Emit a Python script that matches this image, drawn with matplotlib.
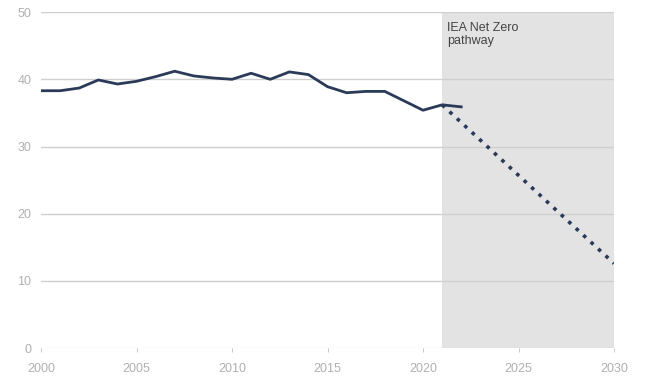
import matplotlib.pyplot as plt
import numpy as np

plt.rcParams['font.family'] = ['Liberation Sans', 'DejaVu Sans']

# historical series
years = [2000, 2001, 2002, 2003, 2004, 2005, 2006, 2007, 2008, 2009, 2010,
         2011, 2012, 2013, 2014, 2015, 2016, 2017, 2018, 2019, 2020, 2021, 2022]
values = [38.3, 38.3, 38.7, 39.9, 39.3, 39.7, 40.4, 41.2, 40.5, 40.2, 40.0,
          40.9, 40.0, 41.1, 40.7, 38.9, 38.0, 38.2, 38.2, 36.8, 35.4, 36.2, 35.9]

# net zero pathway
nz_years = [2021, 2030]
nz_values = [36.2, 12.6]

shade_start, shade_end = 2021, 2030
xticks = [2000, 2005, 2010, 2015, 2020, 2025, 2030]
yticks = [0, 10, 20, 30, 40, 50]

fig = plt.figure(figsize=(6.46, 3.78), dpi=100)
ax = fig.add_axes([0.0635, 0.079, 0.887, 0.889])

ax.axvspan(shade_start, shade_end, color='#e3e3e3', zorder=0, lw=0)
for y in yticks[1:]:
    ax.axhline(y, color='#cfcfcf', lw=1.0, zorder=1)
ax.axhline(0, color='#bdbdbd', lw=0.8, zorder=1)

ax.plot(years, values, color='#2b3a58', lw=2.0, zorder=3)
ax.plot(nz_years, nz_values, color='#2b3a58', lw=2.6, ls=(0, (1, 1.8)), zorder=3)

ax.text(2021.25, 48.6, "IEA Net Zero\npathway", fontsize=9, color='#444444',
        va='top', ha='left', linespacing=1.15)

ax.set_xlim(2000, 2030)
ax.set_ylim(0, 50)
ax.set_xticks(xticks)
ax.set_yticks(yticks)
ax.tick_params(axis='x', length=3, width=0.6, color='#bdbdbd', labelcolor='#b0b0b0',
               labelsize=9, pad=8, direction='out')
ax.tick_params(axis='y', length=0, labelcolor='#b0b0b0', labelsize=9, pad=7)
for s in ax.spines.values():
    s.set_visible(False)

plt.savefig("out.png", dpi=100)
